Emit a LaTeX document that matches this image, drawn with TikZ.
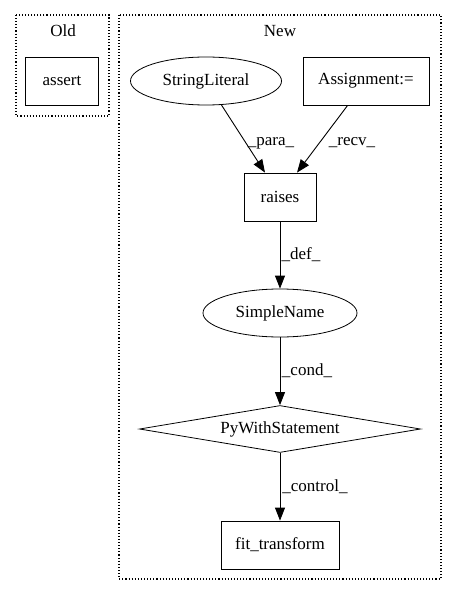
\documentclass[tikz,border=0pt]{standalone}
\usepackage{fontspec}
\setmainfont{Liberation Serif}
\usetikzlibrary{shapes.geometric,arrows.meta}
\begin{document}
\begin{tikzpicture}[x=1pt,y=-1pt,
  every node/.style={font=\fontsize{17}{20}\selectfont, inner sep=0pt},
  cluster/.style={draw, dotted, line width=1.1pt},
  boxnode/.style={draw, line width=0.8pt, rectangle, minimum height=48pt},
  ellnode/.style={draw, line width=0.8pt, ellipse, minimum height=48pt},
  dianode/.style={draw, line width=0.8pt, diamond, aspect=6, minimum width=281pt, minimum height=47pt},
  edge/.style={draw, line width=0.9pt, -{Triangle[length=13pt,width=10pt]}},
  elabel/.style={font=\fontsize{17}{20}\selectfont}]
\useasboundingbox (0,0) rectangle (456,596);
\draw[cluster] (16,15) rectangle (109,116);
\draw[cluster] (119,15) rectangle (441,579);
\node (oldlbl) at (63,31) {Old};
\node (newlbl) at (280,31) {New};
\node[boxnode, minimum width=73pt] (assert) at (62,81) {assert};
\node[ellnode, minimum width=151pt] (str) at (206,81) {StringLiteral};
\node[boxnode, minimum width=126pt] (asg) at (366,81) {Assignment:=};
\node[boxnode, minimum width=72pt] (raises) at (280,197) {raises};
\node[ellnode, minimum width=154pt] (simple) at (280,313) {SimpleName};
\node[dianode] (with) at (280,429) {PyWithStatement};
\node[boxnode, minimum width=118pt] (fit) at (280,545) {fit\_transform};
\draw[edge] (str) -- (raises.north -| 265,0);
\draw[edge] (asg) -- (raises.north -| 297,0);
\draw[edge] (raises) -- (simple);
\draw[edge] (simple) -- (with);
\draw[edge] (with) -- (fit);
\node[elabel] (lpara) at (271,143) {\_para\_};
\node[elabel] (lrecv) at (352,143) {\_recv\_};
\node[elabel] (ldef) at (301,255) {\_def\_};
\node[elabel] (lcond) at (307,371) {\_cond\_};
\node[elabel] (lcontrol) at (315,487) {\_control\_};
\end{tikzpicture}
\end{document}
